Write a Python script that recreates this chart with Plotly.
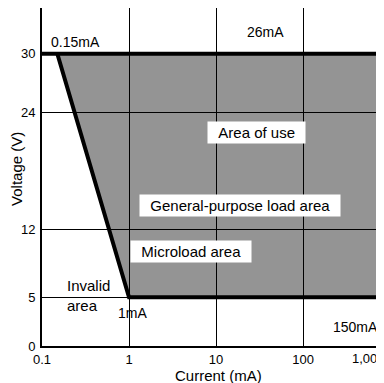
import math
import plotly.graph_objects as go

# operating area outline (current in mA, voltage in V)
area_current = [0.15, 1000, 1000, 1]
area_voltage = [30, 30, 5, 5]

upper_limit_current = [0.1, 1000]
upper_limit_voltage = [30, 30]

lower_edge_current = [0.15, 1, 1000]
lower_edge_voltage = [30, 5, 5]

x_ticks = [0.1, 1, 10, 100]
x_tick_labels = ["0.1", "1", "10", "100"]
y_ticks = [0, 5, 12, 24, 30]

FONT = "Liberation Sans, Arial, sans-serif"

fig = go.Figure()

# shaded area of use
fig.add_trace(go.Scatter(
    x=area_current, y=area_voltage,
    fill="toself", fillcolor="rgba(0,0,0,0.42)",
    line=dict(width=0), mode="lines", hoverinfo="skip",
))

# thick limit lines
fig.add_trace(go.Scatter(
    x=upper_limit_current, y=upper_limit_voltage,
    mode="lines", line=dict(color="black", width=4),
))
fig.add_trace(go.Scatter(
    x=lower_edge_current, y=lower_edge_voltage,
    mode="lines", line=dict(color="black", width=4),
))

# boxed labels on the shaded area
boxed = [
    ("Area of use", 28.8, 21.9),
    ("General-purpose load area", 18.9, 14.4),
    ("Microload area", 5.2, 9.66),
]
for text, cx, cy in boxed:
    fig.add_annotation(
        x=math.log10(cx), y=cy,
        text="&nbsp;&nbsp;" + text + "&nbsp;&nbsp;",
        showarrow=False, bgcolor="white", borderpad=2,
        font=dict(family=FONT, size=15, color="black"),
    )

plain = [
    ("0.15mA", 0.24, 31.2, "center", 14),
    ("26mA", 36.6, 32.2, "center", 14),
    ("150mA", 396, 1.95, "center", 14),
    ("1mA", 1.11, 3.4, "center", 14),
    ("Invalid<br>area", 0.184, 5.14, "left", 15),
]
for text, cx, cy, anchor, size in plain:
    fig.add_annotation(
        x=math.log10(cx), y=cy,
        text=text, showarrow=False, xanchor=anchor, align="left",
        font=dict(family=FONT, size=size, color="black"),
    )

# last tick label sits at the right edge of the page
fig.add_annotation(
    x=0.956, y=0, xref="paper", yref="paper",
    xanchor="center", yanchor="top", yshift=-3,
    text="1,000", showarrow=False,
    font=dict(family=FONT, size=13, color="black"),
)

# axis titles
fig.add_annotation(
    x=0.515, y=-0.086, xref="paper", yref="paper",
    xanchor="center", yanchor="middle",
    text="Current (mA)", showarrow=False,
    font=dict(family=FONT, size=15, color="black"),
)
fig.add_annotation(
    x=-0.073, y=0.524, xref="paper", yref="paper", textangle=-90,
    xanchor="center", yanchor="middle",
    text="Voltage (V)", showarrow=False,
    font=dict(family=FONT, size=15, color="black"),
)

fig.update_xaxes(
    type="log", range=[-1, 2.93],
    tickvals=x_ticks, ticktext=x_tick_labels,
    showgrid=True, gridcolor="black", gridwidth=1,
    showline=True, linecolor="black", linewidth=2, mirror=True,
    ticks="", zeroline=False, automargin=False,
    tickfont=dict(family=FONT, size=13, color="black"),
)
fig.update_yaxes(
    range=[0, 34.7], tickvals=y_ticks,
    showgrid=True, gridcolor="black", gridwidth=1,
    showline=True, linecolor="black", linewidth=2,
    ticks="", zeroline=False, ticklabelstandoff=2, automargin=False,
    tickfont=dict(family=FONT, size=13, color="black"),
)

# the page body adds an 8px offset, so the figure is sized to fill what is left
fig.update_layout(
    width=376, height=375,
    margin=dict(l=34, r=0, t=0, b=37),
    plot_bgcolor="white", paper_bgcolor="white",
    showlegend=False,
)

fig.write_html("out.html")
